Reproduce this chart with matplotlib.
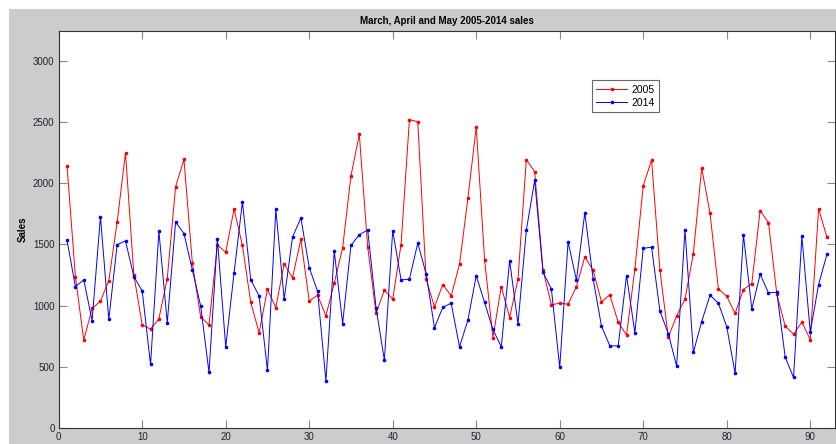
import numpy as np
import matplotlib
matplotlib.use("Agg")
import matplotlib.pyplot as plt
from matplotlib.patches import Rectangle

days = list(range(1, 93))

sales_2005 = [2142, 1237, 717, 976, 1036, 1204, 1684, 2251, 1251, 842,
              807, 891, 1221, 1973, 2196, 1352, 907, 842, 1496, 1436,
              1790, 1492, 1025, 777, 1134, 984, 1343, 1226, 1542, 1036,
              1085, 916, 1185, 1472, 2063, 2401, 1482, 935, 1125, 1052,
              1499, 2523, 2504, 1218, 989, 1172, 1079, 1338, 1877, 2461,
              1376, 738, 1155, 902, 1215, 2194, 2095, 1289, 1006, 1019,
              1011, 1155, 1398, 1289, 1030, 1087, 864, 758, 1300, 1981,
              2191, 1289, 741, 916, 1052, 1425, 2126, 1755, 1136, 1076,
              935, 1131, 1180, 1777, 1679, 1093, 831, 766, 864, 722,
              1793, 1559]

sales_2014 = [1534, 1155, 1210, 877, 1728, 886, 1499, 1529, 1237, 1120,
              518, 1608, 858, 1684, 1589, 1294, 997, 452, 1548, 662,
              1267, 1848, 1210, 1079, 469, 1788, 1052, 1561, 1717, 1311,
              1117, 384, 1447, 853, 1493, 1580, 1619, 984, 553, 1613,
              1210, 1215, 1512, 1259, 818, 986, 1019, 662, 880, 1245,
              1025, 804, 662, 1368, 847, 1616, 2025, 1273, 1136, 493,
              1523, 1207, 1760, 1218, 831, 670, 670, 1245, 777, 1469,
              1477, 954, 771, 504, 1621, 616, 869, 1085, 1019, 826,
              444, 1578, 973, 1256, 1104, 1109, 578, 411, 1567, 782,
              1172, 1420]

plt.rcParams['font.family'] = ['Liberation Sans', 'DejaVu Sans']

fig = plt.figure(figsize=(8.37, 4.44), dpi=100)
fig.patch.set_facecolor('white')
# grey window area (screenshot look)
fig.patches.append(Rectangle((9 / 837, 0), 1, 1 - 9 / 444, transform=fig.transFigure,
                             facecolor='#cccccc', edgecolor='none', zorder=-10))

ax = fig.add_axes([58.7 / 837, 1 - 427.7 / 444, (835.3 - 58.7) / 837, (427.7 - 30.7) / 444])
ax.set_facecolor('white')

ax.plot(days, sales_2005, color='red', marker='.', markersize=3.2, linewidth=0.7, label='2005')
ax.plot(days, sales_2014, color='blue', marker='.', markersize=3.2, linewidth=0.7, label='2014')

ax.set_xlim(0, 93)
ax.set_ylim(0, 3250)
ax.set_xticks(range(0, 91, 10))
ax.set_yticks(range(0, 3001, 500))

ax.tick_params(direction='in', length=6, width=0.8, color='#888888',
               top=True, right=True, labelsize=7, labelcolor='#222233', pad=3)
for s in ax.spines.values():
    s.set_color('#333333')
    s.set_linewidth(0.8)

ax.set_title('March, April and May 2005-2014 sales', fontsize=7, fontweight='bold', pad=5)
ax.set_ylabel('Sales', fontsize=7, fontweight='bold', labelpad=4)

leg = ax.legend(loc='upper left', bbox_to_anchor=(0.68, 0.888), fontsize=7.5,
                frameon=True, fancybox=False, handlelength=3, borderpad=0.4,
                labelspacing=0.3, handletextpad=0.4, numpoints=1)
leg.get_frame().set_edgecolor('#444444')
leg.get_frame().set_linewidth(0.8)

fig.savefig('out.png', dpi=100)
